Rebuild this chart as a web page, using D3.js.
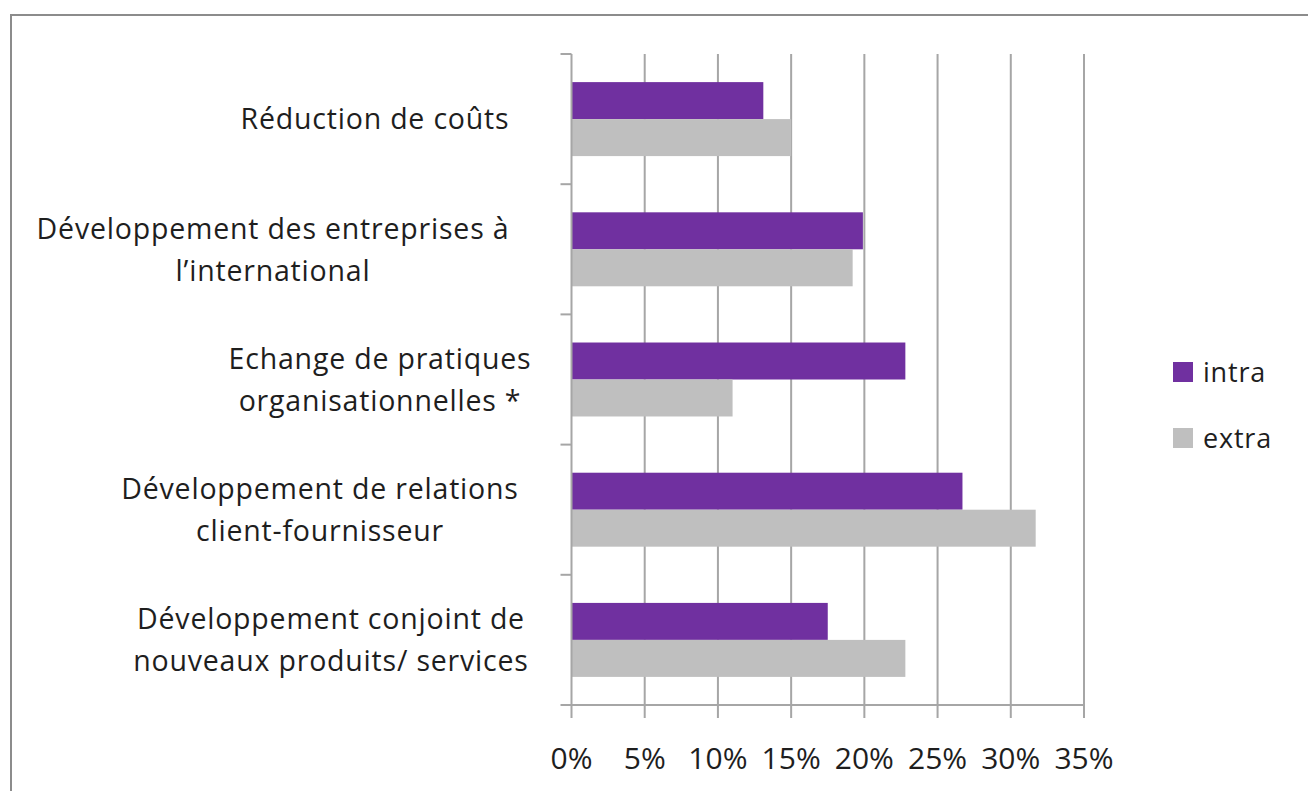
<!DOCTYPE html>
<html>
<head>
<meta charset="utf-8">
<script src="https://cdn.jsdelivr.net/npm/d3@7"></script>
<style>
  html, body { margin: 0; padding: 0; background: #fff; }
  svg { display: block; }
  text { font-family: "Open Sans", Lato, sans-serif; fill: #1e1e1e; letter-spacing: 0.8px; }
</style>
</head>
<body>
<script>
// ---- data ----
const categories = [
  ["Réduction de coûts"],
  ["Développement des entreprises à", "l’international"],
  ["Echange de pratiques", "organisationnelles *"],
  ["Développement de relations", "client-fournisseur"],
  ["Développement conjoint de", "nouveaux produits/ services"]
];
const seriesNames = ["intra", "extra"];
const intraValues = [13.1, 19.9, 22.8, 26.7, 17.5];
const extraValues = [15.0, 19.2, 11.0, 31.7, 22.8];
const xTicks = [0, 5, 10, 15, 20, 25, 30, 35];

// ---- layout ----
const W = 1308, H = 791;
const plot = { left: 571.5, right: 1084, top: 54, bottom: 705 };
const labelCenters = [375, 273, 380, 320, 331];
const colors = { intra: "#7030A0", extra: "#BFBFBF" };
const gridColor = "#A6A6A6";
const fontSize = 28.5;
const tickFontSize = 30;

const svg = d3.select("body").append("svg").attr("width", W).attr("height", H);

// outer border
svg.append("rect").attr("x", 11).attr("y", 15).attr("width", W + 10).attr("height", H + 10)
  .attr("fill", "none").attr("stroke", "#8c8c8c").attr("stroke-width", 2);

const x = d3.scaleLinear().domain([0, 35]).range([plot.left, plot.right]);
const y = d3.scaleBand().domain(d3.range(categories.length)).range([plot.top, plot.bottom]).paddingInner(0).paddingOuter(0);
const ys = d3.scaleBand().domain(seriesNames).range([0, y.bandwidth()]).paddingInner(0).paddingOuter(0.76);

// gridlines (extend below axis as ticks)
svg.append("g").selectAll("line").data(xTicks.filter(d => d > 0)).join("line")
  .attr("x1", d => x(d)).attr("x2", d => x(d))
  .attr("y1", plot.top).attr("y2", plot.bottom + 13)
  .attr("stroke", gridColor).attr("stroke-width", 2);

// bars
const rows = categories.map((c, i) => ({ i, intra: intraValues[i], extra: extraValues[i] }));
const g = svg.append("g");
rows.forEach(r => {
  seriesNames.forEach(s => {
    g.append("rect")
      .attr("x", x(0))
      .attr("y", y(r.i) + ys(s))
      .attr("width", x(r[s]) - x(0))
      .attr("height", ys.bandwidth())
      .attr("fill", colors[s]);
  });
});

// y axis line and ticks
svg.append("line").attr("x1", x(0)).attr("x2", x(0)).attr("y1", plot.top).attr("y2", plot.bottom + 13)
  .attr("stroke", gridColor).attr("stroke-width", 2);
const yBounds = d3.range(categories.length + 1).map(i => plot.top + i * y.step());
svg.append("g").selectAll("line").data(yBounds.slice(0, -1)).join("line")
  .attr("x1", x(0) - 11).attr("x2", x(0)).attr("y1", d => d).attr("y2", d => d)
  .attr("stroke", gridColor).attr("stroke-width", 2);
// x axis line
svg.append("line").attr("x1", x(0) - 11).attr("x2", x(35)).attr("y1", plot.bottom).attr("y2", plot.bottom)
  .attr("stroke", gridColor).attr("stroke-width", 2);

// x tick labels
svg.append("g").selectAll("text").data(xTicks).join("text")
  .attr("x", d => x(d)).attr("y", 769)
  .attr("text-anchor", "middle").attr("font-size", tickFontSize)
  .style("letter-spacing", "0px")
  .text(d => d + "%");

// category labels
const lineH = 42;
categories.forEach((lines, i) => {
  const cy = y(i) + y.bandwidth() / 2;
  const n = lines.length;
  const t = svg.append("text").attr("text-anchor", "middle").attr("font-size", fontSize);
  lines.forEach((ln, k) => {
    t.append("tspan").attr("x", labelCenters[i])
      .attr("y", cy + (k - (n - 1) / 2) * lineH + fontSize * 0.36)
      .text(ln);
  });
});

// legend
const legend = svg.append("g");
seriesNames.forEach((s, k) => {
  const ly = 362 + k * 66;
  legend.append("rect").attr("x", 1173).attr("y", ly).attr("width", 20).attr("height", 20).attr("fill", colors[s]);
  legend.append("text").attr("x", 1203).attr("y", ly + 20).attr("font-size", 27).text(s);
});
</script>
</body>
</html>
